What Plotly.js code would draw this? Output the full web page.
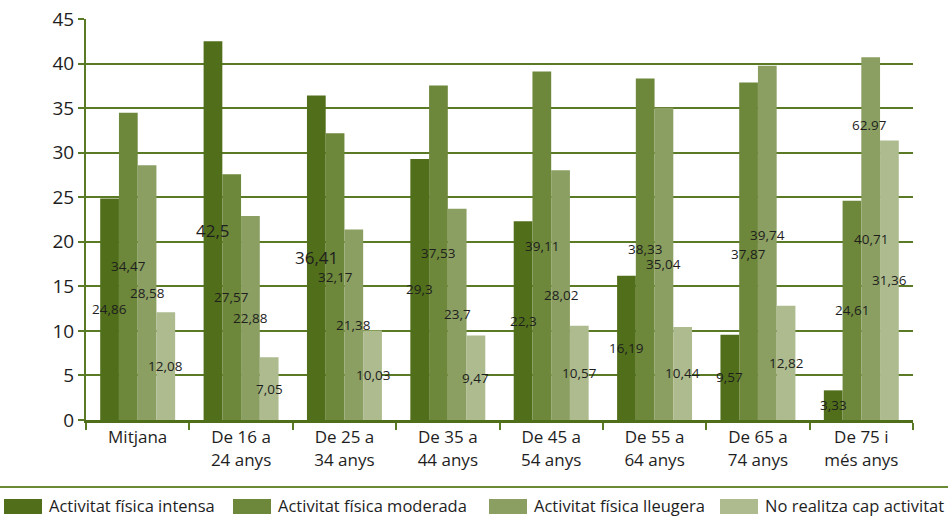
<!DOCTYPE html>
<html>
<head>
<meta charset="utf-8">
<script src="https://cdn.plot.ly/plotly-3.0.1.min.js"></script>
<style>
  html, body { margin: 0; padding: 0; background: #ffffff; }
  #chart { width: 948px; height: 516px; }
</style>
</head>
<body>
<div id="chart"></div>
<script>
// Age groups on the x axis
const categories = [
  'Mitjana',
  'De 16 a<br>24 anys',
  'De 25 a<br>34 anys',
  'De 35 a<br>44 anys',
  'De 45 a<br>54 anys',
  'De 55 a<br>64 anys',
  'De 65 a<br>74 anys',
  'De 75 i<br>més anys'
];

// Series names
const seriesNames = [
  'Activitat física intensa',
  'Activitat física moderada',
  'Activitat física lleugera',
  'No realitza cap activitat'
];

// Percentages per series
const intensa   = [24.86, 42.5, 36.41, 29.3, 22.3, 16.19, 9.57, 3.33];
const moderada  = [34.47, 27.57, 32.17, 37.53, 39.11, 38.33, 37.87, 24.61];
const lleugera  = [28.58, 22.88, 21.38, 23.7, 28.02, 35.04, 39.74, 40.71];
const capActiv  = [12.08, 7.05, 10.03, 9.47, 10.57, 10.44, 12.82, 31.36];

// Extra free-standing label shown in the last group
const extraLabel = '62.97';
const extraLabelValue = 33.1;

// Y axis ticks
const yTicks = [0, 5, 10, 15, 20, 25, 30, 35, 40, 45];

// ---- styling ----
const colors = ['#516f1b', '#6d873b', '#8b9f62', '#adbb8e'];
const green = '#5a7a25';
const fontFamily = 'Open Sans, Liberation Sans, sans-serif';
const textColor = '#1e1e1e';

// Labels drawn in a bigger font: [series index, point index]
const bigLabels = [[0, 1], [0, 2]];
// Small vertical nudges (px) for labels that would otherwise collide
const labelNudge = { '1,6': -3, '2,6': 8 };

// Plot area geometry in pixels
const W = 948, H = 516;
const M = { l: 86, r: 35, t: 19, b: 96 };
const PW = W - M.l - M.r, PH = H - M.t - M.b;
const px2x = p => (p - M.l) / PW;
const py2y = p => (M.t + PH - p) / PH;

const BARGAP = 0.275;
const nSeries = 4;
const barPx = PW / categories.length * (1 - BARGAP) / nSeries;

const fmt = v => String(v).replace('.', ',');

const allSeries = [intensa, moderada, lleugera, capActiv];

const traces = allSeries.map((vals, s) => ({
  type: 'bar',
  name: seriesNames[s],
  x: categories,
  y: vals,
  marker: { color: colors[s], line: { width: 0 } },
  hoverinfo: 'skip'
}));

const shapes = [{
  type: 'line', xref: 'paper', yref: 'paper',
  x0: px2x(0), x1: px2x(W), y0: py2y(487), y1: py2y(487),
  line: { color: '#6a8a35', width: 2 }
}];
const annotations = [];

// Value labels centred at half the bar height, above all bars
allSeries.forEach((vals, s) => {
  vals.forEach((v, i) => {
    const big = bigLabels.some(b => b[0] === s && b[1] === i);
    annotations.push({
      x: categories[i], y: v / 2, xref: 'x', yref: 'y',
      xshift: (s - (nSeries - 1) / 2) * barPx,
      yshift: labelNudge[s + ',' + i] || 0,
      text: fmt(v), showarrow: false,
      xanchor: 'center', yanchor: 'middle',
      font: { family: fontFamily, size: big ? 17 : 13.5, color: textColor }
    });
  });
});

annotations.push({
  x: categories[7], y: extraLabelValue, xref: 'x', yref: 'y',
  xshift: 8, text: extraLabel, showarrow: false,
  font: { family: fontFamily, size: 13.5, color: textColor }
});

// Custom legend: swatches and labels below a separator line
const legendLeft = [4, 233, 489, 720];
const swatchW = 38, swatchTop = 499, swatchBottom = 514, textGap = 5, legendMid = 505;

seriesNames.forEach((name, s) => {
  shapes.push({
    type: 'rect', xref: 'paper', yref: 'paper',
    x0: px2x(legendLeft[s]), x1: px2x(legendLeft[s] + swatchW),
    y0: py2y(swatchBottom), y1: py2y(swatchTop),
    fillcolor: colors[s], line: { width: 0 }
  });
  annotations.push({
    xref: 'paper', yref: 'paper',
    x: px2x(legendLeft[s] + swatchW + textGap), y: py2y(legendMid),
    xanchor: 'left', yanchor: 'middle',
    text: name, showarrow: false,
    font: { family: fontFamily, size: 16.5, color: textColor }
  });
});

const layout = {
  width: W, height: H,
  margin: M,
  paper_bgcolor: '#ffffff',
  plot_bgcolor: '#ffffff',
  showlegend: false,
  barmode: 'group',
  bargap: BARGAP,
  bargroupgap: 0,
  font: { family: fontFamily, color: textColor },
  xaxis: {
    type: 'category',
    range: [-0.5, 7.5],
    showline: true, linecolor: '#4e6e1a', linewidth: 3,
    ticks: 'outside', tickson: 'boundaries', ticklen: 7, tickwidth: 2, tickcolor: green,
    tickfont: { family: fontFamily, size: 17, color: textColor },
    showgrid: false, zeroline: false, fixedrange: true
  },
  yaxis: {
    range: [0, 45],
    tickmode: 'array', tickvals: yTicks, ticktext: yTicks.map(String),
    showline: true, linecolor: green, linewidth: 2,
    ticks: 'outside', ticklen: 6, tickwidth: 2, tickcolor: green,
    tickfont: { family: fontFamily, size: 19, color: textColor },
    showgrid: true, gridcolor: green, gridwidth: 2,
    zeroline: false, fixedrange: true
  },
  shapes: shapes,
  annotations: annotations
};

Plotly.newPlot('chart', traces, layout, { displayModeBar: false, staticPlot: true });
</script>
</body>
</html>
